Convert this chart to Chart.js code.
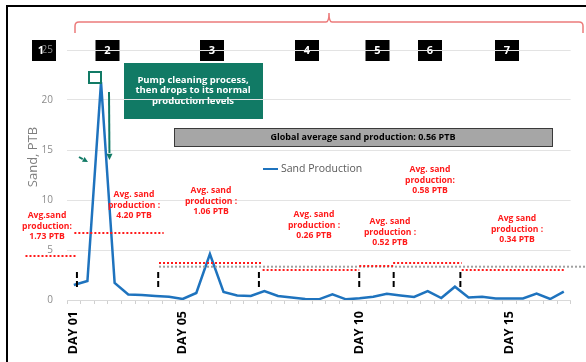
<!DOCTYPE html>
<html>
<head>
<meta charset="utf-8">
<script src="https://cdn.jsdelivr.net/npm/chart.js@4.4.1/dist/chart.umd.min.js"></script>
<style>
  html, body { margin: 0; padding: 0; background: #fff; }
  #wrap { width: 586px; height: 362px; }
</style>
</head>
<body>
<div id="wrap"><canvas id="sandChart" width="586" height="362"></canvas></div>
<script>
// data
const dayLabels = [
  "DAY 01", "", "", "", "", "", "", "", "DAY 05", "", "", "", "", "",
  "", "", "", "", "", "", "", "DAY 10", "", "", "", "", "", "",
  "", "", "", "", "DAY 15", "", "", "", ""
];
const sandProduction = [
  1.5, 1.9, 21.8, 1.7, 0.55, 0.5, 0.4, 0.33, 0.1, 0.7, 4.6, 0.8, 0.45,
  0.4, 0.9, 0.4, 0.25, 0.1, 0.07, 0.57, 0.07, 0.17, 0.33, 0.63, 0.45,
  0.3, 0.88, 0.2, 1.33, 0.25, 0.33, 0.15, 0.15, 0.15, 0.65, 0.1, 0.83
];
const yTicks = [0, 5, 10, 15, 20, 25];

// period averages (text) and the stages
const stageNumbers = ["1", "2", "3", "4", "5", "6", "7"];
const periodAverages = ["1.73", "4.20", "1.06", "0.26", "0.52", "0.58", "0.34"];
const globalAverage = "0.56";

const FONT = "'Open Sans', sans-serif";
const BLUE = "#1e73be";
const RED = "#ff1a1a";
const TEAL = "#117a65";

// decoration layout (pixels / scale units), kept apart from the data
const stageBoxes = [44, 107.5, 212, 307, 377.5, 430, 507];
const avgLines = [ // [fromIdx, toIdx, yValue]
  [-3.55, 0.26, 4.4], [0.04, 6.6, 6.7], [6.26, 13.87, 3.7], [13.87, 20.97, 3.0],
  [20.97, 23.46, 3.4], [23.46, 28.5, 3.7], [28.5, 36.1, 3.0]
];
const markers = [0.23, 6.2, 13.6, 20.97, 23.5, 28.4];
const avgTexts = [ // [cx, firstLineY, head, mid]
  [47, 216, "Avg.sand", "production:"],
  [134, 195, "Avg. sand", "production :"],
  [211, 191, "Avg. sand", "production :"],
  [314, 215, "Avg. sand", "production :"],
  [390, 222, "Avg. sand", "production :"],
  [430, 170, "Avg. sand", "production:"],
  [517, 219, "Avg sand", "production :"]
];

function dotted(c, x1, x2, y, color) {
  c.save();
  c.strokeStyle = color;
  c.lineWidth = 2;
  c.setLineDash([2, 2]);
  c.beginPath();
  c.moveTo(x1, y);
  c.lineTo(x2, y);
  c.stroke();
  c.restore();
}

function arrow(c, x1, y1, x2, y2, head) {
  const a = Math.atan2(y2 - y1, x2 - x1);
  c.beginPath();
  c.moveTo(x1, y1);
  c.lineTo(x2 - Math.cos(a) * head, y2 - Math.sin(a) * head);
  c.stroke();
  c.beginPath();
  c.moveTo(x2, y2);
  c.lineTo(x2 - head * Math.cos(a - 0.45), y2 - head * Math.sin(a - 0.45));
  c.lineTo(x2 - head * Math.cos(a + 0.45), y2 - head * Math.sin(a + 0.45));
  c.closePath();
  c.fill();
}

const overlay = {
  id: "overlay",
  beforeDraw(chart) {
    const c = chart.ctx;
    c.save();
    // frame
    c.fillStyle = "#000";
    c.fillRect(6, 5, 580, 2);
    c.fillRect(6, 5, 2, 357);

    // red brace on top
    c.strokeStyle = "#ec7b7b";
    c.lineWidth = 1.5;
    c.beginPath();
    c.moveTo(75, 33);
    c.lineTo(75, 26);
    c.quadraticCurveTo(75, 22, 79, 22);
    c.lineTo(326, 22);
    c.quadraticCurveTo(329, 22, 329, 13);
    c.quadraticCurveTo(329, 22, 332, 22);
    c.lineTo(579, 22);
    c.quadraticCurveTo(583, 22, 583, 26);
    c.lineTo(583, 33);
    c.stroke();

    // numbered stages
    c.textAlign = "center";
    c.textBaseline = "middle";
    c.font = "bold 11px " + FONT;
    stageBoxes.forEach((cx, i) => {
      c.fillStyle = "#000";
      c.fillRect(cx - 12, 40, 24, 21);
      c.fillStyle = "#fff";
      c.fillText(stageNumbers[i], i === 0 ? cx - 3 : cx, 51);
    });

    // green note
    c.fillStyle = TEAL;
    c.fillRect(124, 63, 139, 56);
    c.fillStyle = "#fff";
    c.font = "bold 9.5px " + FONT;
    ["Pump cleaning process,", "then drops to its normal", "production levels"]
      .forEach((t, i) => c.fillText(t, 193, 80 + i * 10.5));

    // global average box
    c.fillStyle = "#a6a6a6";
    c.fillRect(174, 128, 378, 18);
    c.strokeStyle = "#3a3a3a";
    c.lineWidth = 1;
    c.strokeRect(174.5, 128.5, 378, 18);
    c.fillStyle = "#000";
    c.font = "bold 9px " + FONT;
    c.fillText("Global average sand production: " + globalAverage + " PTB", 363, 137.5);
    c.restore();
  },
  afterDatasetsDraw(chart) {
    const c = chart.ctx;
    const xs = chart.scales.x, ys = chart.scales.y;
    c.save();

    // global average and period averages
    dotted(c, xs.getPixelForValue(6.26), 586, ys.getPixelForValue(3.33), "#a0a0a0");
    avgLines.forEach(([a, b, v]) =>
      dotted(c, xs.getPixelForValue(a), xs.getPixelForValue(b), ys.getPixelForValue(v), RED));

    // stage change markers
    c.strokeStyle = "#000";
    c.lineWidth = 2;
    c.setLineDash([6, 3]);
    markers.forEach(m => {
      const x = xs.getPixelForValue(m);
      c.beginPath();
      c.moveTo(x, ys.getPixelForValue(2.8));
      c.lineTo(x, ys.getPixelForValue(1.2));
      c.stroke();
    });
    c.setLineDash([]);

    // average texts
    c.fillStyle = RED;
    c.textAlign = "center";
    c.textBaseline = "middle";
    c.font = "bold 8.6px " + FONT;
    avgTexts.forEach(([cx, y, head, mid], i) => {
      c.fillText(head, cx, y);
      c.fillText(mid, cx, y + 10.5);
      c.fillText(periodAverages[i] + " PTB", cx, y + 21);
    });

    // legend
    c.strokeStyle = BLUE;
    c.lineWidth = 2;
    c.beginPath();
    c.moveTo(263, 169);
    c.lineTo(278, 169);
    c.stroke();
    c.fillStyle = "#595959";
    c.textAlign = "left";
    c.font = "10.5px " + FONT;
    c.fillText("Sand Production", 281, 169);

    // axis title
    c.save();
    c.translate(33, 157);
    c.rotate(-Math.PI / 2);
    c.textAlign = "center";
    c.fillStyle = "#7f7f7f";
    c.font = "13px " + FONT;
    c.fillText("Sand, PTB", 0, 0);
    c.restore();

    // peak highlight and arrows
    c.strokeStyle = TEAL;
    c.fillStyle = TEAL;
    c.lineWidth = 2;
    c.strokeRect(89, 72, 12, 11);
    arrow(c, 109, 92, 109.5, 160, 7);
    arrow(c, 79, 157, 88, 162, 6);
    c.restore();
  }
};

const ctx = document.getElementById("sandChart").getContext("2d");

new Chart(ctx, {
  type: "line",
  data: {
    labels: dayLabels,
    datasets: [{
      label: "Sand Production",
      data: sandProduction,
      borderColor: BLUE,
      borderWidth: 2.5,
      pointRadius: 0,
      tension: 0,
      fill: false
    }]
  },
  options: {
    responsive: false,
    animation: false,
    layout: { padding: { left: 0, right: 14, top: 50, bottom: 0 } },
    plugins: {
      legend: { display: false },
      tooltip: { enabled: false }
    },
    scales: {
      x: {
        offset: true,
        grid: { offset: true, drawOnChartArea: false, tickLength: 4, color: "#d0d0d0" },
        border: { color: "#d9d9d9" },
        ticks: {
          autoSkip: false,
          minRotation: 90,
          maxRotation: 90,
          padding: 7,
          color: "#000",
          font: { family: FONT, size: 12.5, weight: "bold" }
        },
        afterFit(scale) { scale.height = 62; }
      },
      y: {
        min: yTicks[0],
        max: yTicks[yTicks.length - 1],
        afterBuildTicks(scale) { scale.ticks = yTicks.map(v => ({ value: v })); },
        grid: { color: "#e3e3e3", drawTicks: false },
        border: { display: false },
        ticks: {
          padding: 14,
          color: "#8c8c8c",
          font: { family: FONT, size: 10 }
        },
        afterFit(scale) { scale.width = 67; }
      }
    }
  },
  plugins: [overlay]
});
</script>
</body>
</html>
